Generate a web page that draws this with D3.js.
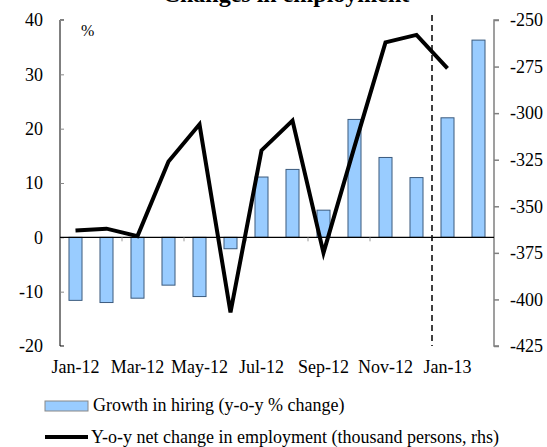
<!DOCTYPE html>
<html>
<head>
<meta charset="utf-8">
<script src="https://cdn.jsdelivr.net/npm/d3@7"></script>
<style>
  html, body { margin: 0; padding: 0; background: #fff; }
  svg { display: block; font-family: "Liberation Serif", "Times New Roman", serif; }
</style>
</head>
<body>
<svg id="chart" width="547" height="447"></svg>
<script>
const months = ['Jan-12', 'Feb-12', 'Mar-12', 'Apr-12', 'May-12', 'Jun-12', 'Jul-12',
  'Aug-12', 'Sep-12', 'Oct-12', 'Nov-12', 'Dec-12', 'Jan-13', 'Feb-13'];

// growth in hiring, y-o-y % change (left axis)
const hiring = [-11.6, -12.0, -11.2, -8.8, -10.9, -2.1, 11.1, 12.5, 5.0, 21.7, 14.7, 11.0, 22.0, 36.3];

// y-o-y net change in employment, thousand persons (right axis), no value for Feb-13
const employment = [-363, -362, -366, -326, -306, -407, -320, -304, -375, -318, -262, -258, -276, null];

const leftTicks = [-20, -10, 0, 10, 20, 30, 40];
const rightTicks = [-425, -400, -375, -350, -325, -300, -275, -250];
const labelMonths = ['Jan-12', 'Mar-12', 'May-12', 'Jul-12', 'Sep-12', 'Nov-12', 'Jan-13'];
const dividerMonth = 'Jan-13';

const titleText = 'Changes in employment';
const legendLabels = ['Growth in hiring (y-o-y % change)',
  'Y-o-y net change in employment (thousand persons, rhs)'];

const svg = d3.select('#chart');
const plot = { left: 60, right: 494, top: 20, bottom: 346 };

const x = d3.scaleBand()
  .domain(months)
  .range([plot.left, plot.right])
  .paddingInner(0.58)
  .paddingOuter(0.29);

const yLeft = d3.scaleLinear().domain([-20, 40]).range([plot.bottom, plot.top]);
const yRight = d3.scaleLinear().domain([-425, -250]).range([plot.bottom, plot.top]);

const gap = (x.step() - x.bandwidth()) / 2;
const plain = d => String(d); // keep the hyphen, not the unicode minus

// title, mostly cropped at the top edge as in the source
svg.append('text')
  .attr('x', 286)
  .attr('y', 2)
  .attr('text-anchor', 'middle')
  .style('font-size', '24px')
  .style('font-weight', 'bold')
  .text(titleText);

// left axis
const leftAxis = svg.append('g')
  .attr('transform', `translate(${plot.left},0)`)
  .call(d3.axisRight(yLeft).tickValues(leftTicks).tickSize(4).tickFormat(plain));
leftAxis.select('.domain').attr('stroke', '#000').attr('d', `M4,${plot.top}H0V${plot.bottom}H4`);
leftAxis.selectAll('.tick line').attr('stroke', '#888');
leftAxis.selectAll('.tick text')
  .attr('x', -17)
  .attr('text-anchor', 'end')
  .attr('fill', '#000')
  .style('font-size', '18px')
  .style('font-family', '"Liberation Serif", serif');

// right axis
const rightAxis = svg.append('g')
  .attr('transform', `translate(${plot.right},0)`)
  .call(d3.axisRight(yRight).tickValues(rightTicks).tickSize(5).tickPadding(11).tickFormat(plain));
rightAxis.select('.domain').attr('stroke', '#808080').attr('stroke-width', 1.5)
  .attr('d', `M5,${plot.top}H0V${plot.bottom}H5`);
rightAxis.selectAll('.tick line').attr('stroke', '#808080').attr('stroke-width', 1.5);
rightAxis.selectAll('.tick text')
  .attr('fill', '#000')
  .style('font-size', '18px')
  .style('font-family', '"Liberation Serif", serif');

// percent unit label
svg.append('text')
  .attr('x', 81)
  .attr('y', 36)
  .style('font-size', '16px')
  .text('%');

// bars
svg.append('g')
  .selectAll('rect')
  .data(months)
  .join('rect')
  .attr('x', d => x(d))
  .attr('width', x.bandwidth())
  .attr('y', (d, i) => yLeft(Math.max(0, hiring[i])))
  .attr('height', (d, i) => Math.abs(yLeft(hiring[i]) - yLeft(0)))
  .attr('fill', '#99ccff')
  .attr('stroke', '#3b5a7d')
  .attr('stroke-width', 1);

// zero line and category ticks
svg.append('line')
  .attr('x1', plot.left).attr('x2', plot.right)
  .attr('y1', yLeft(0)).attr('y2', yLeft(0))
  .attr('stroke', '#000').attr('stroke-width', 1.2);

svg.append('g')
  .selectAll('line')
  .data(months.filter((d, i) => i > 0 && i % 2 === 0))
  .join('line')
  .attr('x1', d => x(d) - gap).attr('x2', d => x(d) - gap)
  .attr('y1', yLeft(0)).attr('y2', yLeft(0) + 4)
  .attr('stroke', '#999');

// dashed divider before Jan-13
svg.append('line')
  .attr('x1', x(dividerMonth) - gap).attr('x2', x(dividerMonth) - gap)
  .attr('y1', 15).attr('y2', plot.bottom)
  .attr('stroke', '#000')
  .attr('stroke-width', 1.5)
  .attr('stroke-dasharray', '6,4');

// employment line
const line = d3.line()
  .defined(d => d[1] != null)
  .x(d => x(d[0]) + x.bandwidth() / 2)
  .y(d => yRight(d[1]));

svg.append('path')
  .datum(months.map((m, i) => [m, employment[i]]))
  .attr('d', line)
  .attr('fill', 'none')
  .attr('stroke', '#000')
  .attr('stroke-width', 4)
  .attr('stroke-linejoin', 'miter');

// x labels
svg.append('g')
  .selectAll('text')
  .data(labelMonths)
  .join('text')
  .attr('x', d => x(d) + x.bandwidth() / 2)
  .attr('y', 373)
  .attr('text-anchor', 'middle')
  .style('font-size', '18px')
  .text(d => d);

// legend
const legend = svg.append('g');
legend.append('rect')
  .attr('x', 45).attr('y', 401)
  .attr('width', 43).attr('height', 10)
  .attr('fill', '#99ccff')
  .attr('stroke', '#888');
legend.append('text')
  .attr('x', 93).attr('y', 411)
  .style('font-size', '18px')
  .text(legendLabels[0]);
legend.append('line')
  .attr('x1', 45).attr('x2', 88)
  .attr('y1', 437).attr('y2', 437)
  .attr('stroke', '#000').attr('stroke-width', 4);
legend.append('text')
  .attr('x', 91).attr('y', 443)
  .style('font-size', '18px')
  .text(legendLabels[1]);
</script>
</body>
</html>
